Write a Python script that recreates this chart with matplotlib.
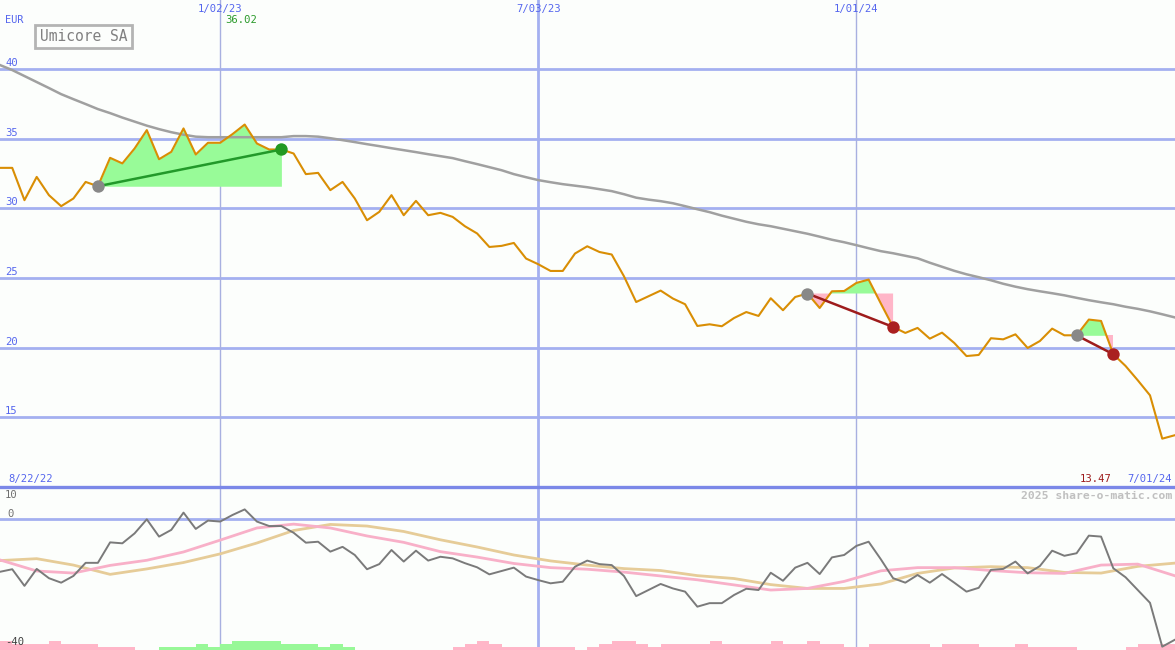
import matplotlib
matplotlib.use('Agg')
import matplotlib.pyplot as plt
import matplotlib.transforms as mtrans
import numpy as np
import pandas as pd

# ---------------- data ----------------
dates = pd.date_range('2022-08-29', periods=97, freq='7D')

price = [32.91, 32.91, 30.59, 32.26, 30.95, 30.16, 30.71, 31.90, 31.59, 33.63,
         33.23, 34.30, 35.62, 33.53, 34.06, 35.74, 33.87, 34.71, 34.71, 35.33,
         36.02, 34.66, 34.23, 34.23, 33.94, 32.46, 32.55, 31.31, 31.90, 30.71,
         29.15, 29.75, 30.95, 29.51, 30.54, 29.51, 29.68, 29.39, 28.72, 28.20,
         27.23, 27.31, 27.52, 26.40, 25.99, 25.51, 25.51, 26.76, 27.28, 26.87,
         26.69, 25.13, 23.28, 23.69, 24.10, 23.53, 23.12, 21.56, 21.68, 21.54,
         22.13, 22.56, 22.28, 23.55, 22.69, 23.64, 23.89, 22.85, 24.05, 24.07,
         24.65, 24.89, 23.17, 21.49, 21.06, 21.42, 20.65, 21.08, 20.34, 19.40,
         19.48, 20.68, 20.60, 20.96, 19.98, 20.48, 21.37, 20.89, 20.89, 22.02,
         21.92, 19.53, 18.69, 17.66, 16.58, 13.47, 13.71]

moving_avg = [40.29, 39.93, 39.50, 39.07, 38.64, 38.20, 37.84, 37.49, 37.13, 36.84,
              36.52, 36.23, 35.94, 35.69, 35.47, 35.29, 35.15, 35.11, 35.11, 35.11,
              35.11, 35.11, 35.11, 35.11, 35.19, 35.19, 35.15, 35.04, 34.90, 34.76,
              34.61, 34.47, 34.32, 34.18, 34.04, 33.89, 33.75, 33.61, 33.39, 33.18,
              32.96, 32.74, 32.46, 32.24, 32.03, 31.88, 31.74, 31.63, 31.52, 31.38,
              31.24, 31.02, 30.77, 30.63, 30.52, 30.37, 30.16, 29.94, 29.73, 29.48,
              29.26, 29.04, 28.86, 28.72, 28.54, 28.36, 28.18, 27.97, 27.75, 27.57,
              27.36, 27.14, 26.93, 26.78, 26.60, 26.42, 26.10, 25.81, 25.52, 25.27,
              25.06, 24.84, 24.59, 24.38, 24.20, 24.05, 23.91, 23.76, 23.58, 23.41,
              23.26, 23.12, 22.94, 22.79, 22.61, 22.40, 22.18]

oscillator = [-16.5, -15.7, -20.9, -15.6, -18.5, -19.9, -17.8, -13.7, -13.7, -7.3,
              -7.6, -4.5, -0.1, -5.5, -3.4, 2.0, -3.1, -0.5, -0.8, 1.25,
              3.0, -0.8, -2.2, -2.2, -4.3, -7.4, -7.1, -10.2, -8.7, -11.25,
              -15.7, -14.1, -9.7, -13.3, -9.9, -13.0, -11.8, -12.3, -13.8, -15.1,
              -17.3, -16.25, -15.2, -18.0, -19.1, -20.1, -19.6, -14.9, -13.0, -14.1,
              -14.4, -17.8, -24.1, -22.2, -20.3, -21.7, -22.7, -27.4, -26.3, -26.3,
              -23.75, -21.8, -22.2, -16.8, -19.3, -15.2, -13.7, -17.2, -12.0, -11.25,
              -8.4, -7.1, -12.6, -18.5, -19.9, -17.5, -19.9, -17.2, -19.9, -22.7,
              -21.5, -15.9, -15.6, -13.3, -17.0, -14.7, -9.9, -11.5, -10.7, -5.2,
              -5.5, -15.4, -18.2, -22.2, -26.2, -39.9, -37.8]

# smoothed indicator lines, read every third week
smooth_dates = dates[::3]
pink_signal = [-12.8, -16.25, -16.9, -14.5, -12.9, -10.3, -6.6, -2.8, -1.6, -2.8,
               -5.3, -7.3, -10.2, -11.9, -13.9, -15.2, -15.7, -16.6, -17.8, -19.0,
               -20.6, -22.2, -21.7, -19.5, -16.2, -15.2, -15.2, -16.1, -16.8, -17.0,
               -14.4, -14.1, -17.7]
tan_signal = [-13.0, -12.4, -14.4, -17.3, -15.6, -13.6, -10.9, -7.5, -3.6, -1.7,
              -2.2, -3.9, -6.5, -8.75, -11.25, -13.1, -14.4, -15.5, -16.1, -17.7,
              -18.6, -20.5, -21.7, -21.7, -20.3, -17.0, -15.3, -14.9, -15.2, -16.7,
              -16.9, -14.8, -13.8]

# weekly signal strength bars (+ green, - pink)
strength = [-3, -2, -2, -2, -3, -2, -2, -2, -1, -1, -1, 0, 0,
            1, 1, 1, 2, 1, 2, 3, 3, 3, 3, 2, 2, 2, 1, 2, 1,
            0, 0, 0, 0, 0, 0, 0, 0,
            -1, -2, -3, -2, -1, -1, -1, -1, -1, -1,
            0,
            -1, -2, -3, -3, -2, -1, -2, -2, -2, -2, -3, -2, -2, -2, -2, -3, -2, -2,
            -3, -2, -2, -1, -1, -2, -2, -2, -2, -2, -1, -2, -2, -2, -1, -1, -1, -2,
            -1, -1, -1, -1,
            0, 0, 0, 0,
            -1, -2, -2, -2, -2]

trades = [('2022-10-24', '2023-02-06'),
          ('2023-12-04', '2024-01-22'),
          ('2024-05-06', '2024-05-27')]

yticks_main = [15, 20, 25, 30, 35, 40]
date_marks = ['2023-01-02', '2023-07-03', '2024-01-01']
date_labels = ['1/02/23', '7/03/23', '1/01/24']

# ---------------- style ----------------
BG = '#fcfefc'
GRID = '#a4b0f0'
BLUE_TXT = '#5566ee'
PRICE_C = '#d98e04'
MA_C = '#a0a0a0'
FONT = 'DejaVu Sans Mono'

W, H = 1175, 650
fig = plt.figure(figsize=(W / 100, H / 100), dpi=100)
fig.patch.set_facecolor(BG)

ax = fig.add_axes([0, 163 / H, 1, 487 / H])
ax2 = fig.add_axes([0, 0, 1, 163 / H])
for a in (ax, ax2):
    a.patch.set_visible(False)
    a.set_xticks([])
    a.set_yticks([])
    for s in a.spines.values():
        s.set_visible(False)

xmin, xmax = dates[0], dates[-1] + pd.Timedelta(days=0.3)
ax.set_xlim(xmin, xmax)
ax2.set_xlim(xmin, xmax)
ax.set_ylim(10, 44.96)
ax2.set_ylim(-40.94, 10)

price_a = np.array(price)

# gridlines
for v in yticks_main:
    ax.axhline(v, color=GRID, lw=2, zorder=1)
ax2.axhline(0, color=GRID, lw=2, zorder=1)
for d in date_marks:
    dd = pd.Timestamp(d)
    if d == '2023-07-03':
        ax.axvline(dd, color=GRID, lw=2, zorder=1)
        ax2.axvline(dd, color=GRID, lw=2, zorder=1)
    else:
        ax.axvline(dd, color='#a8b0e0', lw=1, zorder=1)
        ax2.axvline(dd, color='#a8b0e0', lw=1, zorder=1)

# separator between panels
ax2.axhline(10, color='#7b88e8', lw=2.4, zorder=6, clip_on=False)

# trades fills
for e, x in trades:
    i0 = dates.get_loc(pd.Timestamp(e))
    i1 = dates.get_loc(pd.Timestamp(x))
    xs = dates[i0:i1 + 1]
    ps = price_a[i0:i1 + 1]
    base = ps[0]
    ax.fill_between(xs, base, ps, where=ps >= base, interpolate=True,
                    color='#98fb98', lw=0, zorder=2)
    ax.fill_between(xs, base, ps, where=ps <= base, interpolate=True,
                    color='#ffb6c8', lw=0, zorder=2)

# moving average & price
ax.plot(dates, moving_avg, color=MA_C, lw=1.8, zorder=3)
ax.plot(dates, price, color=PRICE_C, lw=1.5, zorder=4)

for e, x in trades:
    i0 = dates.get_loc(pd.Timestamp(e))
    i1 = dates.get_loc(pd.Timestamp(x))
    win = price_a[i1] > price_a[i0]
    lc = '#22992a' if win else '#9e1c1c'
    dc = '#229922' if win else '#aa2020'
    ax.plot([dates[i0], dates[i1]], [price_a[i0], price_a[i1]], color=lc, lw=1.8, zorder=5)
    ax.scatter([dates[i0]], [price_a[i0]], s=80, color='#888888', zorder=6, lw=0)
    ax.scatter([dates[i1]], [price_a[i1]], s=80, color=dc, zorder=6, lw=0)

# lower panel
st = np.array(strength)
lvl = 0.94
heights = np.abs(st) * lvl
cols = ['#98f898' if v > 0 else '#ffb6c8' for v in st]
ax2.bar(dates, heights, width=7, align='edge', bottom=-40.94, color=cols, lw=0, zorder=2)
ax2.plot(smooth_dates, tan_signal, color='#e6cc98', lw=2, zorder=3)
ax2.plot(smooth_dates, pink_signal, color='#f8b0c8', lw=2, zorder=3)
ax2.plot(dates, oscillator, color='#7a7a7a', lw=1.4, zorder=4)

# ---------------- texts ----------------
def ptxt(x, y, s, **kw):
    kw.setdefault('family', FONT)
    fig.text(x / W, 1 - y / H, s, **kw)

ytr = mtrans.blended_transform_factory(ax.transAxes, ax.transData)
for v in yticks_main:
    ax.text(5 / W, v, str(v), transform=ytr + mtrans.ScaledTranslation(0, 1 / 100, fig.dpi_scale_trans),
            va='bottom', ha='left', color=BLUE_TXT, fontsize=7.6, family=FONT, zorder=7)

xtr = mtrans.blended_transform_factory(ax.transData, ax.transAxes)
for d, lab in zip(date_marks, date_labels):
    ax.text(pd.Timestamp(d), 1 - 9 / 487, lab, transform=xtr, ha='center', va='center',
            color=BLUE_TXT, fontsize=7.6, family=FONT)

ptxt(5, 20, 'EUR', color=BLUE_TXT, fontsize=7.4, va='center', ha='left')
ptxt(225, 20, f'{max(price):.2f}', color='#2a9a2a', fontsize=7.6, va='center', ha='left')

# title box
ptxt(83.5, 36.5, 'Umicore SA', color='#808080', fontsize=10.5, va='center', ha='center',
     bbox=dict(boxstyle='square,pad=0.3', fc=BG, ec='#b4b4b4', lw=2))

ptxt(8, 479, '8/22/22', color=BLUE_TXT, fontsize=7.6, va='center', ha='left')
ptxt(1112, 479, f'{price[-2]:.2f}', color='#9e1c1c', fontsize=7.6, va='center', ha='right')
ptxt(1172, 479, '7/01/24', color=BLUE_TXT, fontsize=7.6, va='center', ha='right')
ptxt(1172, 496, '2025 share-o-matic.com', color='#c0c0c0', fontsize=8.2, va='center',
     ha='right', fontweight='bold')

ptxt(5, 495, '10', color='#707070', fontsize=7.6, va='center', ha='left')
ptxt(7, 514, '0', color='#707070', fontsize=7.6, va='center', ha='left')
ptxt(5, 642, '-40', color='#404040', fontsize=7.6, va='center', ha='left', zorder=8)

fig.savefig('out.png', dpi=100, facecolor=BG)
